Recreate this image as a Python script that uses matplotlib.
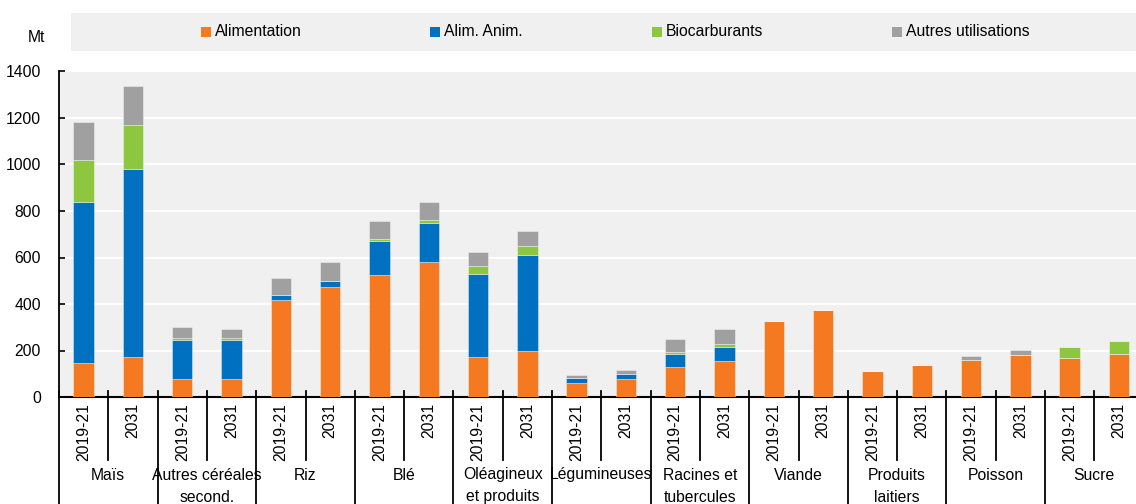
import numpy as np
import matplotlib
matplotlib.use('Agg')
import matplotlib.pyplot as plt
from matplotlib import font_manager
from matplotlib.patches import Rectangle

# Data (Mt)
categories = ['Maïs', 'Autres céréales\nsecond.', 'Riz', 'Blé', 'Oléagineux\net produits',
              'Légumineuses', 'Racines et\ntubercules', 'Viande', 'Produits\nlaitiers',
              'Poisson', 'Sucre']
periods = ['2019-21', '2031']
series_names = ['Alimentation', 'Alim. Anim.', 'Biocarburants', 'Autres utilisations']

alimentation = [145, 172, 79, 79, 419, 475, 524, 582, 172, 200, 60, 76,
                129, 154, 327, 376, 110, 137, 157, 180, 166, 186]
alim_anim = [692, 807, 168, 168, 19, 22, 149, 168, 359, 409, 23, 24,
             55, 61, 0, 0, 0, 0, 0, 0, 0, 0]
biocarburants = [183, 191, 7, 7, 0, 0, 8, 11, 32, 39, 0, 0,
                 9, 12, 0, 0, 0, 0, 0, 0, 47, 56]
autres = [163, 169, 45, 40, 73, 85, 76, 79, 60, 64, 12, 15,
          58, 65, 0, 0, 0, 0, 20, 22, 0, 0]

colors = ['#F47920', '#0070C0', '#8DC63F', '#A0A0A0']
yticks = [0, 200, 400, 600, 800, 1000, 1200, 1400]

# font: narrow if available
names = {f.name for f in font_manager.fontManager.ttflist}
if 'Liberation Sans Narrow' in names:
    FAM, FS = 'Liberation Sans Narrow', 13.4
else:
    FAM, FS = 'Liberation Sans', 11.3
plt.rcParams['font.family'] = [FAM, 'DejaVu Sans']
plt.rcParams['font.size'] = FS

W, H = 1136, 504
fig = plt.figure(figsize=(W / 100, H / 100), dpi=100)
x0, x1, ytop, ybot = 59, 1136, 71.5, 397
ax = fig.add_axes([x0 / W, 1 - ybot / H, (x1 - x0) / W, (ybot - ytop) / H])
ax_h = ybot - ytop

ax.set_facecolor('#F0F0F0')
data = [alimentation, alim_anim, biocarburants, autres]
x = np.arange(len(alimentation))
bottom = np.zeros(len(x))
for vals, c, name in zip(data, colors, series_names):
    ax.bar(x, vals, width=0.415, bottom=bottom, color=c, label=name,
           edgecolor=(1, 1, 1, 0.45), linewidth=0.6, zorder=3)
    bottom += np.array(vals)

ax.set_ylim(0, 1400)
ax.set_xlim(-0.5, -0.5 + (x1 - x0) / 49.3)
ax.set_yticks(yticks)
ax.yaxis.grid(True, color='white', linewidth=1.4, zorder=1)
ax.set_axisbelow(True)
ax.tick_params(axis='y', direction='in', length=4, width=1.2, pad=13, labelsize=FS)
ax.set_xticks([])
for s in ['top', 'right']:
    ax.spines[s].set_visible(False)
ax.spines['left'].set_linewidth(1.3)
ax.spines['bottom'].set_linewidth(1.5)

tr = ax.get_xaxis_transform()
px = 1.0 / ax_h

# year labels
for i in x:
    ax.text(i, -6 * px, periods[i % 2], rotation=90, ha='center', va='top',
            transform=tr, fontsize=FS)
# separators
for i in range(len(categories)):
    xi = 2 * i - 0.5
    ax.plot([xi, xi], [6 * px, -108 * px], transform=tr, color='black',
            lw=1.3, clip_on=False, zorder=4)
    ax.plot([xi + 1, xi + 1], [6 * px, -63 * px], transform=tr, color='black',
            lw=1.3, clip_on=False, zorder=4)
    for k, line in enumerate(categories[i].split('\n')):
        ax.text(2 * i + 0.5, (-78 - 22 * k) * px, line, ha='center', va='center',
                transform=tr, fontsize=FS)

# unit label
fig.text(45 / W, 1 - 38 / H, 'Mt', ha='right', va='center', fontsize=FS)

# legend band
fig.patches.append(Rectangle((71 / W, 1 - 50.7 / H), (W - 71) / W, 38 / H,
                             transform=fig.transFigure, facecolor='#F0F0F0',
                             edgecolor='none', zorder=0))
leg_x = [201, 430, 652, 892]
for lx, c, name in zip(leg_x, colors, series_names):
    fig.patches.append(Rectangle((lx / W, 1 - 36.7 / H), 10 / W, 10 / H,
                                 transform=fig.transFigure, facecolor=c,
                                 edgecolor='none', zorder=1))
    fig.text((lx + 14) / W, 1 - 31.5 / H, name, ha='left', va='center', fontsize=FS)

fig.savefig('out.png', dpi=100)
